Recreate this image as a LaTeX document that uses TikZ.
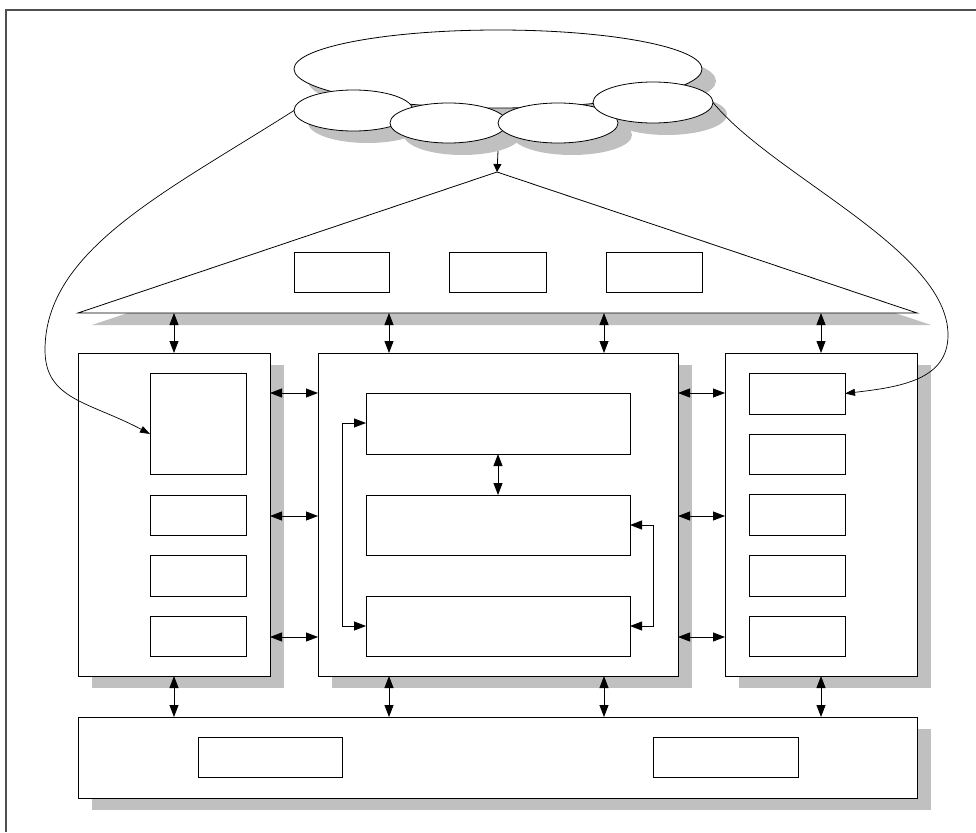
\documentclass[tikz,border=0pt]{standalone}
\usetikzlibrary{arrows.meta,shapes.geometric,backgrounds}

\definecolor{shadowgray}{HTML}{C0C0C0}
\definecolor{framegray}{HTML}{505050}

\tikzset{
  blk/.style={draw=black, line width=0.8pt, fill=white, rectangle,
              inner sep=0pt, outer sep=0pt},
  cloudpart/.style={draw=black, line width=0.8pt, fill=white, ellipse,
              inner sep=0pt, outer sep=0pt},
  biarrow/.style={line width=0.8pt,
              {Triangle[length=12pt,width=9pt]}-{Triangle[length=12pt,width=9pt]}},
  onearrow/.style={line width=0.7pt, -{Triangle[length=10pt,width=7pt]}},
  smallarrow/.style={line width=0.8pt, -{Triangle[length=8pt,width=8pt]}},
  shadowfill/.style={fill=shadowgray, draw=none},
}

% rectangle node given by its corners (x1,y1) (x2,y2)
\newcommand\rectnode[5]{%
  \node[blk, minimum width={#4-#2}, minimum height={#5-#3}]
    (#1) at ({(#2+#4)/2},{(#3+#5)/2}) {};}
% ellipse node given by centre and radii
\newcommand\ellnode[5]{%
  \node[cloudpart, minimum width={2*#4}, minimum height={2*#5}]
    (#1) at (#2,#3) {};}
% shadow of a rectangle node
\newcommand\rectshadow[1]{%
  \fill[shadowfill] ([shift={(14,12)}]#1.north west) rectangle ([shift={(14,12)}]#1.south east);}
% shadow of an ellipse node
\newcommand\ellshadow[3]{%
  \fill[shadowfill] ([shift={(14,12)}]#1.center) ellipse [x radius=#2, y radius=#3];}

\begin{document}
\begin{tikzpicture}[x=1pt,y=-1pt]
\useasboundingbox (0,0) rectangle (976,832);

% outer frame (top and left edges)
\draw[framegray, line width=1.2pt] (976,10) -- (6,10) -- (6,832);

% ---- cloud ----
\ellnode{big}{498}{69}{204}{39}
\ellnode{e1}{353.5}{110.5}{59.5}{20.5}
\ellnode{e2}{448.5}{123}{58.5}{20}
\ellnode{e3}{558}{123}{60}{20}
\ellnode{e4}{653}{102.5}{60}{20.5}

% ---- triangle ----
\coordinate (apex) at (497,172);
\coordinate (tl) at (78,313);
\coordinate (tr) at (917,313);
\draw[line width=0.8pt, fill=white] (apex) -- (tl) -- (tr) -- cycle;

\rectnode{ta}{294}{252}{389}{292}
\rectnode{tb}{449}{252}{546}{292}
\rectnode{tc}{606}{252}{702}{292}

% ---- three columns ----
\rectnode{lbox}{78}{353}{270}{676}
\rectnode{cbox}{318}{353}{678}{676}
\rectnode{rbox}{725}{353}{917}{676}

\rectnode{lb1}{150}{373}{246}{474}
\rectnode{lb2}{150}{495}{246}{535}
\rectnode{lb3}{150}{555}{246}{596}
\rectnode{lb4}{150}{616}{246}{656}

\rectnode{cb1}{366}{393}{630}{454}
\rectnode{cb2}{366}{495}{630}{555}
\rectnode{cb3}{366}{596}{630}{656}

\rectnode{rb1}{749}{373}{845}{414}
\rectnode{rb2}{749}{434}{845}{474}
\rectnode{rb3}{749}{494}{845}{535}
\rectnode{rb4}{749}{555}{845}{596}
\rectnode{rb5}{749}{616}{845}{656}

% ---- bottom bar ----
\rectnode{bbox}{78}{717}{917}{798}
\rectnode{bb1}{198}{737}{342}{777}
\rectnode{bb2}{653}{737}{798}{777}

% ---- drop shadows ----
\begin{scope}[on background layer]
  \ellshadow{big}{204}{39}
  \ellshadow{e1}{59.5}{20.5}
  \ellshadow{e2}{58.5}{20}
  \ellshadow{e3}{60}{20}
  \ellshadow{e4}{60}{20.5}
  \fill[shadowfill] ([shift={(14,12)}]apex) -- ([shift={(14,12)}]tl) -- ([shift={(14,12)}]tr) -- cycle;
  \rectshadow{lbox}
  \rectshadow{cbox}
  \rectshadow{rbox}
  \rectshadow{bbox}
\end{scope}

% ---- connectors ----
\coordinate (cloudfoot) at (498,151);
\draw[smallarrow] (cloudfoot) -- (apex);

% triangle base to columns
\draw[biarrow] (lbox.north |- tl) -- (lbox.north);
\draw[biarrow] (389,313 |- tl) -- (cbox.north -| 389,0);
\draw[biarrow] (604,313 |- tl) -- (cbox.north -| 604,0);
\draw[biarrow] (rbox.north |- tl) -- (rbox.north);

% columns to bottom bar
\draw[biarrow] (lbox.south) -- (lbox.south |- bbox.north);
\draw[biarrow] (cbox.south -| 389,0) -- (bbox.north -| 389,0);
\draw[biarrow] (cbox.south -| 604,0) -- (bbox.north -| 604,0);
\draw[biarrow] (rbox.south) -- (rbox.south |- bbox.north);

% between columns
\foreach \yy in {393,516,637} {
  \draw[biarrow] (lbox.east |- 0,\yy) -- (cbox.west |- 0,\yy);
  \draw[biarrow] (cbox.east |- 0,\yy) -- (rbox.west |- 0,\yy);
}

% inside the centre column
\draw[biarrow] (cb1.south) -- (cb2.north);
\draw[biarrow] (cb1.west |- 0,423) -- ++(-24,0) |- (cb3.west |- 0,626);
\draw[biarrow] (cb2.east |- 0,525) -- ++(23,0) |- (cb3.east |- 0,626);

% long curves from the cloud
\draw[onearrow] (e1.west) .. controls (166,192) and (45,250) .. (45,350)
  .. controls (45,400) and (90,402) .. (lb1.west |- 0,434);
\draw[onearrow] (e4.east) .. controls (773,176) and (948,250) .. (948,335)
  .. controls (948,380) and (900,387) .. (rb1.east);

\end{tikzpicture}
\end{document}
